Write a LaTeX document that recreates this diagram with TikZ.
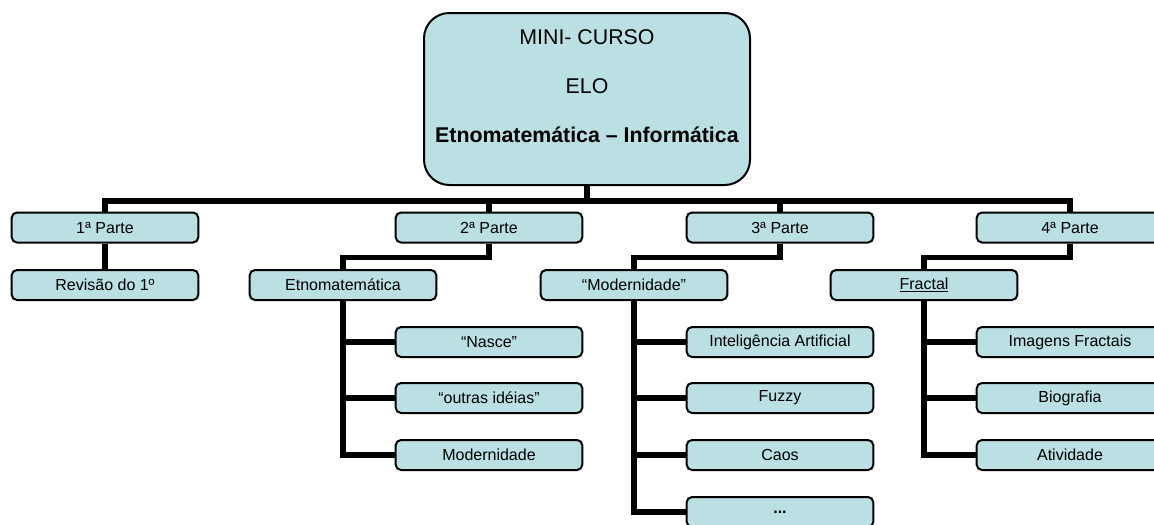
\documentclass[tikz,border=0pt]{standalone}
\usepackage{fontspec}
\setmainfont{Liberation Sans}
\usepackage{tikz}
\usetikzlibrary{backgrounds}
\usepackage{xcolor}
\definecolor{ChartBlue}{HTML}{BBE0E3}

\begin{document}
\begin{tikzpicture}[x=0.75pt,y=-0.75pt,
   box/.style={draw,line width=1.5pt,fill=ChartBlue,rounded corners=4pt,minimum width=140pt,minimum height=22.5pt,inner sep=0pt,font=\fontsize{12}{14}\selectfont},
   link/.style={line width=4pt}]
   \useasboundingbox (0,0) rectangle (1154,525);
   \node[box,rounded corners=19pt,minimum width=244.5pt,minimum height=129pt] (elo) at (587,99) {};
   \node[align=center,font=\fontsize{16}{19}\selectfont] (elotxt) at (587,86) {MINI- CURSO\\[18pt]ELO\\[18pt]\textbf{Etnomatemática – Informática}};
   \node[box] (p1) at (105,227.5) {1ª Parte};
   \node[box] (p2) at (489,227.5) {2ª Parte};
   \node[box] (p3) at (780,227.5) {3ª Parte};
   \node[box] (p4) at (1070,227.5) {4ª Parte};
   \node[box] (rev) at (105,285) {Revisão do 1º};
   \node[box] (etno) at (343,285) {Etnomatemática};
   \node[box] (mod) at (634,285) {“Modernidade”};
   \node[box] (fractal) at (924,285) {\underline{Fractal}};
   \node[box] (nasce) at (489,342) {“Nasce”};
   \node[box] (outras) at (489,398) {“outras idéias”};
   \node[box] (moderna) at (489,455) {Modernidade};
   \node[box] (ia) at (780,342) {Inteligência Artificial};
   \node[box] (fuzzy) at (780,398) {Fuzzy};
   \node[box] (caos) at (780,455) {Caos};
   \node[box] (etc) at (780,512) {\textbf{...}};
   \node[box] (imagens) at (1070,342) {Imagens Fractais};
   \node[box] (bio) at (1070,398) {Biografia};
   \node[box] (ativ) at (1070,455) {Atividade};
   \begin{scope}[on background layer]
      \draw[link] (elo.south) -- ++(0,15) coordinate (hub);
      \draw[link] (p1.north) |- (hub) -| (p4.north);
      \draw[link] (p2.north) -- (p2.north |- hub);
      \draw[link] (p3.north) -- (p3.north |- hub);
      \draw[link] (p1.south) -- (rev.north);
      \draw[link] (p2.south) -- ++(0,14) -| (etno.north);
      \draw[link] (p3.south) -- ++(0,14) -| (mod.north);
      \draw[link] (p4.south) -- ++(0,14) -| (fractal.north);
      \foreach \c in {nasce,outras,moderna}
         \draw[link] (etno.south) |- (\c.west);
      \foreach \c in {ia,fuzzy,caos,etc}
         \draw[link] (mod.south) |- (\c.west);
      \foreach \c in {imagens,bio,ativ}
         \draw[link] (fractal.south) |- (\c.west);
   \end{scope}
\end{tikzpicture}
\end{document}
